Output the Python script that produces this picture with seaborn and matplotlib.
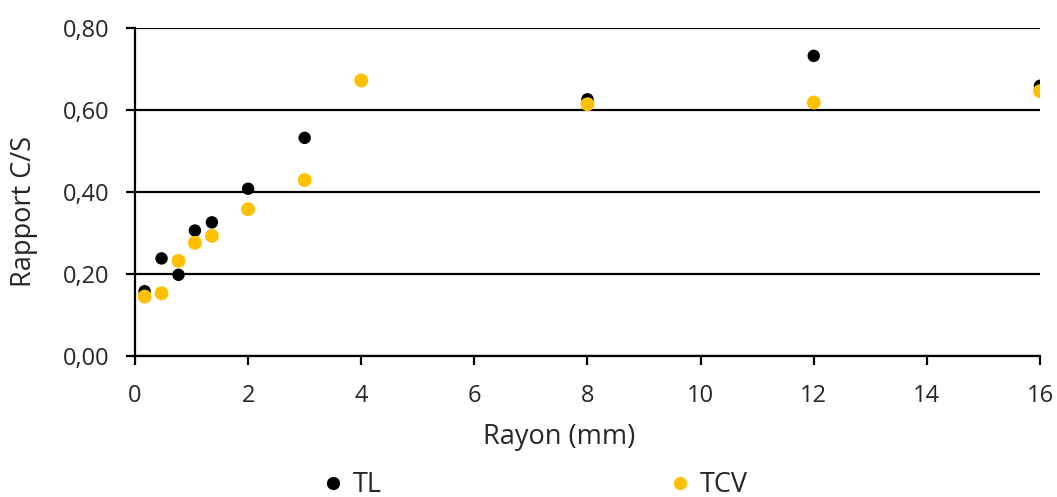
import pandas as pd
import numpy as np
import matplotlib
matplotlib.use("Agg")
import matplotlib.pyplot as plt
from matplotlib.ticker import FuncFormatter
import seaborn as sns

# Values
rayon = [0.17, 0.47, 0.77, 1.06, 1.36, 2, 3, 4, 8, 12, 16]
tl = [0.158, 0.238, 0.198, 0.306, 0.326, 0.408, 0.532, 0.672, 0.626, 0.732, 0.659]
tcv = [0.145, 0.153, 0.232, 0.276, 0.293, 0.358, 0.429, 0.672, 0.614, 0.618, 0.646]

df = pd.DataFrame({
    "rayon": rayon * 2,
    "rapport": tl + tcv,
    "serie": ["TL"] * len(rayon) + ["TCV"] * len(rayon),
})

sns.set_style("white")
plt.rcParams["font.family"] = ["Open Sans", "DejaVu Sans"]

fig = plt.figure(figsize=(10.57, 4.97), dpi=100)
ax = fig.add_axes([0.1277, 0.2837, 0.8562, 0.66])

sns.scatterplot(data=df, x="rayon", y="rapport", hue="serie", size="serie",
                palette={"TL": "black", "TCV": "#FFC000"},
                sizes={"TL": 80, "TCV": 100},
                linewidth=0, ax=ax, legend=False, zorder=3)

ax.set_xlim(0, 16)
ax.set_ylim(0, 0.8)
ax.set_xticks(np.arange(0, 17, 2))
ax.set_yticks(np.arange(0, 0.81, 0.2))
ax.yaxis.set_major_formatter(FuncFormatter(lambda v, p: f"{v:.2f}".replace(".", ",")))
ax.grid(axis="y", color="black", linewidth=1.6)
ax.set_axisbelow(True)
for side in ["top", "right"]:
    ax.spines[side].set_visible(False)
for side in ["left", "bottom"]:
    ax.spines[side].set_color("black")
    ax.spines[side].set_linewidth(1.6)
ax.tick_params(axis="both", direction="out", length=6.5, width=1.6,
               color="black", labelsize=17, labelcolor="#262626",
               left=True, bottom=True)
ax.tick_params(axis="x", pad=14)
ax.tick_params(axis="y", pad=12)
ax.set_xlabel("Rayon (mm)", fontsize=19.5, color="#262626")
ax.set_ylabel("Rapport C/S", fontsize=19.5, color="#262626")
# the titles sit a bit off the plot centre, as in the original
ax.xaxis.set_label_coords(0.4685, -0.205)
ax.yaxis.set_label_coords(-0.107, 0.44)

# legend below the axes
handles = [
    plt.Line2D([], [], marker="o", linestyle="", color="black", markersize=8.5),
    plt.Line2D([], [], marker="o", linestyle="", color="#FFC000", markersize=8.5),
]
fig.legend(handles, ["TL", "TCV"], loc="center", bbox_to_anchor=(0.505, 0.024),
           ncol=2, frameon=False, fontsize=19.5, columnspacing=10.5,
           handletextpad=0.24, handlelength=1.0, labelcolor="#262626")

fig.savefig("out.png", dpi=100)
